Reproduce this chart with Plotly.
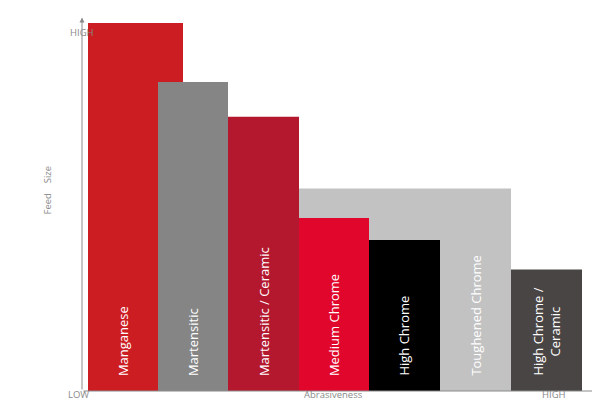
import plotly.graph_objects as go

names = ["Manganese", "Martensitic", "Martensitic / Ceramic", "Toughened Chrome",
         "Medium Chrome", "High Chrome", "High Chrome /<br>Ceramic"]
feed_size = [100, 84, 74.5, 55, 47, 41, 33]
abr_start = [0.6, 7.6, 14.6, 21.7, 21.7, 28.7, 42.9]
abr_end = [10.1, 14.6, 21.7, 42.9, 28.7, 35.8, 50.0]
label_pos = [4.1, 11.1, 18.15, 39.4, 25.2, 32.25, 46.45]
colors = ["#cc1d22", "#858585", "#b3182f", "#c2c2c2", "#e1062b", "#000000", "#4a4545"]

fig = go.Figure()
for n, h, s, e, c in zip(names, feed_size, abr_start, abr_end, colors):
    fig.add_trace(go.Bar(x=[(s + e) / 2], y=[h], width=[e - s], base=0,
                         marker=dict(color=c, line=dict(width=0)), hoverinfo="skip"))
for n, p in zip(names, label_pos):
    fig.add_annotation(x=p, y=3.5, text=n, textangle=-90, showarrow=False,
                       yanchor="bottom", font=dict(color="white", size=13, family="Open Sans"))

gray = "#8a8a8a"
fig.add_annotation(x=51.5, y=0, ax=0, ay=0, axref="x", ayref="y", showarrow=True,
                   arrowhead=2, arrowsize=1, arrowwidth=1, arrowcolor=gray, text="")
fig.add_annotation(x=0, y=101.5, ax=0, ay=0, axref="x", ayref="y", showarrow=True,
                   arrowhead=2, arrowsize=1, arrowwidth=1, arrowcolor=gray, text="")
tf = dict(color=gray, size=9.5, family="Open Sans")

def px(x, y):
    return (x - 74) / 516, (415 - y - 32) / 368

for txt, x, y in [("HIGH", 60, 16), ("LOW", 58, 395), ("HIGH", 560, 395), ("Abrasiveness", 325, 395)]:
    ax_, ay_ = px(x, y)
    fig.add_annotation(x=ax_, y=ay_, xref="paper", yref="paper", text=txt, showarrow=False, font=tf)
ax_, ay_ = px(30, 182)
fig.add_annotation(x=ax_, y=ay_, xref="paper", yref="paper",
                   text="Feed    Size", textangle=-90, showarrow=False, font=tf)

fig.update_layout(width=600, height=415, barmode="overlay", showlegend=False,
                  plot_bgcolor="white", paper_bgcolor="white",
                  margin=dict(l=74, r=10, t=15, b=32),
                  xaxis=dict(range=[0, 51.6], visible=False),
                  yaxis=dict(range=[0, 100], visible=False))
fig.write_html("out.html")
